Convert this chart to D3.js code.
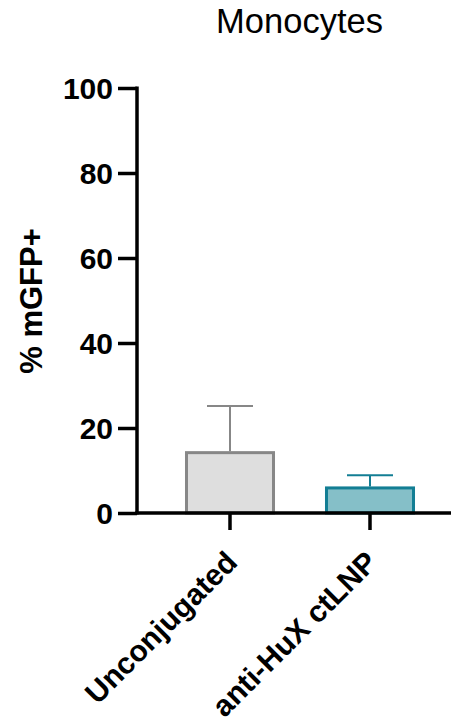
<!DOCTYPE html>
<html>
<head>
<meta charset="utf-8">
<script src="https://cdn.jsdelivr.net/npm/d3@7"></script>
<style>
  body { margin: 0; background: #fff; }
  text { font-family: "Liberation Sans", Arial, sans-serif; }
</style>
</head>
<body>
<div id="chart"></div>
<script>
var groups = ["Unconjugated", "anti-HuX ctLNP"];
var means = [14.2, 5.9];
var errors = [11.0, 3.0];
var yTicks = [0, 20, 40, 60, 80, 100];
var fills = ["#dedede", "#85bfc8"];
var strokes = ["#878787", "#137e94"];

var width = 451, height = 726;

var svg = d3.select("#chart")
  .append("svg")
  .attr("width", width)
  .attr("height", height);

var x = d3.scaleBand()
  .domain(groups)
  .range([160, 440])
  .paddingInner(0.357)
  .paddingOuter(0.1785);

var y = d3.scaleLinear()
  .domain([0, 100])
  .range([513, 88]);

// bars
svg.selectAll("rect.bar")
  .data(groups)
  .enter()
  .append("rect")
  .attr("class", "bar")
  .attr("x", function (d) { return x(d) + 1.5; })
  .attr("width", x.bandwidth() - 3)
  .attr("y", function (d, i) { return y(means[i]); })
  .attr("height", function (d, i) { return y(0) - y(means[i]); })
  .attr("fill", function (d, i) { return fills[i]; })
  .attr("stroke", function (d, i) { return strokes[i]; })
  .attr("stroke-width", 3);

// error bars (upper only)
var eb = svg.selectAll("g.err")
  .data(groups)
  .enter()
  .append("g")
  .attr("class", "err")
  .attr("stroke", function (d, i) { return strokes[i]; })
  .attr("stroke-width", 2);

eb.append("line")
  .attr("x1", function (d) { return x(d) + x.bandwidth() / 2; })
  .attr("x2", function (d) { return x(d) + x.bandwidth() / 2; })
  .attr("y1", function (d, i) { return y(means[i]) - 1.5; })
  .attr("y2", function (d, i) { return y(means[i] + errors[i]); });

eb.append("line")
  .attr("x1", function (d) { return x(d) + x.bandwidth() / 2 - 23; })
  .attr("x2", function (d) { return x(d) + x.bandwidth() / 2 + 23; })
  .attr("y1", function (d, i) { return y(means[i] + errors[i]); })
  .attr("y2", function (d, i) { return y(means[i] + errors[i]); });

// y axis
var yAxis = svg.append("g")
  .attr("transform", "translate(137,0)")
  .call(d3.axisLeft(y).tickValues(yTicks).tickSize(19).tickPadding(5).tickSizeOuter(0));
yAxis.select(".domain").attr("stroke", "#000").attr("stroke-width", 3.5)
  .attr("d", "M0," + (y(100) - 1.5) + "V" + (y(0) + 1.5));
yAxis.selectAll(".tick line").attr("stroke", "#000").attr("stroke-width", 3.5);
yAxis.selectAll(".tick text")
  .attr("font-size", 30)
  .attr("font-weight", "bold")
  .attr("fill", "#000")
  .attr("dy", "0.36em");

// x axis
var xAxis = svg.append("g")
  .attr("transform", "translate(0," + y(0) + ")")
  .call(d3.axisBottom(x).tickSize(17).tickSizeOuter(0).tickFormat(""));
xAxis.select(".domain").attr("stroke", "#000").attr("stroke-width", 3.5)
  .attr("d", "M135.25,0H451");
xAxis.selectAll(".tick line").attr("stroke", "#000").attr("stroke-width", 3.5);

xAxis.selectAll(".tick")
  .append("text")
  .attr("transform", "translate(9,51) rotate(-45)")
  .attr("text-anchor", "end")
  .attr("font-size", 30)
  .attr("font-weight", "bold")
  .attr("fill", "#000")
  .text(function (d) { return d; });

// y label
svg.append("text")
  .attr("transform", "translate(42,301) rotate(-90)")
  .attr("text-anchor", "middle")
  .attr("font-size", 31)
  .attr("font-weight", "bold")
  .text("% mGFP+");

// title
svg.append("text")
  .attr("x", 299.5)
  .attr("y", 33)
  .attr("text-anchor", "middle")
  .attr("font-size", 34.5)
  .text("Monocytes");
</script>
</body>
</html>
